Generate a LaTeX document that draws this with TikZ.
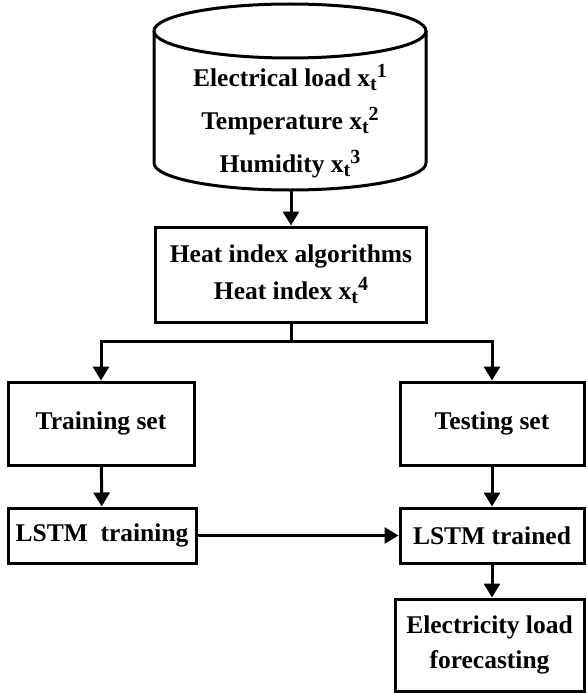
\documentclass[tikz,border=0pt]{standalone}
\usepackage{fontspec}
\setmainfont{Liberation Serif}
\usetikzlibrary{arrows.meta}
\newcommand{\xv}[1]{x\raisebox{-0.35ex}{\fontsize{20}{20}\selectfont t}\raisebox{0.75ex}{\fontsize{20}{20}\selectfont #1}}
\begin{document}
\begin{tikzpicture}[x=1pt,y=-1pt,
  line width=3pt,
  box/.style={draw, line width=3pt, align=center, font=\fontsize{25.5}{36}\selectfont\bfseries, inner sep=0pt},
  arr/.style={-{Triangle[length=14pt,width=16pt]}, line width=3pt},
  lbl/.style={align=center, font=\fontsize{25.5}{36}\selectfont\bfseries, inner sep=0pt}]
\useasboundingbox (0,0) rectangle (586,693);
% cylinder
\draw (290,31) ellipse[x radius=136, y radius=27];
\draw (154,31) -- (154,163) arc[start angle=180, end angle=0, x radius=136, y radius=27] -- (426,31);
\node[lbl, font=\fontsize{25.5}{43}\selectfont\bfseries] (db) at (290,121) {Electrical load \xv{1}\\Temperature \xv{2}\\Humidity \xv{3}};
% boxes
\node[box, minimum width=271pt, minimum height=95pt, font=\fontsize{25.5}{37}\selectfont\bfseries] (heat) at (291,274.5) {Heat index algorithms\\Heat index \xv{4}};
\node[box, minimum width=186pt, minimum height=83pt] (train) at (101,423.5) {Training set};
\node[box, minimum width=184pt, minimum height=83pt] (test) at (492,423.5) {Testing set};
\node[box, minimum width=188pt, minimum height=55pt] (lstmtr) at (102,535.5) {LSTM\ \ training};
\node[box, minimum width=184pt, minimum height=55pt] (lstmtd) at (492,535.5) {LSTM trained};
\node[box, minimum width=189pt, minimum height=92pt, font=\fontsize{25.5}{35}\selectfont\bfseries] (elec) at (489.5,645) {Electricity load\\forecasting};
\coordinate (dbbot) at (291,190);
\coordinate (split) at (291,341);
% connectors
\draw[arr] (dbbot) -- (heat.north);
\draw (heat.south) -- (split);
\draw[arr] (split) -| (train.north);
\draw[arr] (split) -| (test.north);
\draw[arr] (train) -- (lstmtr);
\draw[arr] (test) -- (lstmtd);
\draw[arr] (lstmtr) -- (lstmtd);
\draw[arr] (lstmtd) -- (lstmtd |- elec.north);
\end{tikzpicture}
\end{document}
